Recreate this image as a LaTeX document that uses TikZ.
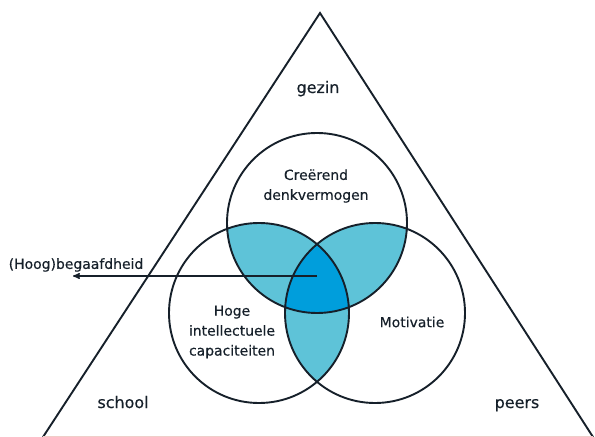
\documentclass[tikz,border=0pt]{standalone}
\usepackage{fontspec}
\setmainfont{DejaVu Sans}[BoldFont={DejaVu Sans},BoldFeatures={FakeBold=0.35}]
\usetikzlibrary{arrows,positioning}
\definecolor{lichtblauw}{RGB}{94,195,216}
\definecolor{donkerblauw}{RGB}{0,158,220}
\definecolor{lijn}{RGB}{22,32,42}
\definecolor{rand}{RGB}{240,205,200}

\begin{document}
\begin{tikzpicture}[x=1bp,y=-1bp,>=stealth',line width=1.9bp,
  veld/.style={font=\fontsize{16}{19}\selectfont\bfseries,text=lijn,anchor=base},
  kwal/.style={font=\fontsize{14}{20}\selectfont\bfseries,text=lijn,align=center}]
\useasboundingbox (0,0) rectangle (595,437);

\coordinate (top)    at (320,13);
\coordinate (links)  at (43,437);
\coordinate (rechts) at (593,437);

\coordinate (cT) at (317,223);
\coordinate (cL) at (259,313);
\coordinate (cR) at (375,313);
\coordinate (kern) at (317,276);
\coordinate (pijlpunt) at (73,276);

% overlappingen
\begin{scope}
\clip (cT) circle (90);
\fill[lichtblauw] (cL) circle (90);
\fill[lichtblauw] (cR) circle (90);
\end{scope}
\begin{scope}
\clip (cL) circle (90);
\fill[lichtblauw] (cR) circle (90);
\end{scope}
\begin{scope}
\clip (cT) circle (90);
\clip (cL) circle (90);
\fill[donkerblauw] (cR) circle (90);
\end{scope}

% cirkels en driehoek
\draw[lijn] (cT) circle (90) (cL) circle (90) (cR) circle (90);
\draw[lijn] (links) -- (top) -- (rechts);
\draw[rand,line width=1bp] (links) ++(0,-1) -- ([yshift=1bp]rechts);

\node[veld] (gezin)  at (318,93)  {gezin};
\node[veld] (school) at (123,408) {school};
\node[veld] (peers)  at (517,408) {peers};

\node[kwal] (denk)  at (316,186) {Creërend\\denkvermogen};
\node[kwal] (capac) at (232,332) {Hoge\\intellectuele\\capaciteiten};
\node[kwal] (motiv) at (412,322) {Motivatie};
\node[kwal] (begaafd) at (76,265) {(Hoog)begaafdheid};

\draw[->,lijn,line width=1.4bp] (kern) -- (pijlpunt);
\end{tikzpicture}
\end{document}
